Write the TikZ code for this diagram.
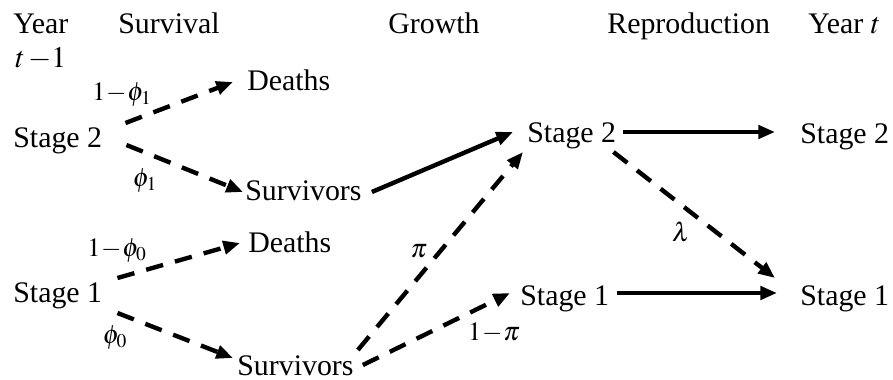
\documentclass[tikz,border=0pt]{standalone}
\usepackage{mathptmx}
\usepackage{fontspec}
\setmainfont{Liberation Serif}
\usetikzlibrary{arrows.meta,calc}

\begin{document}
\begin{tikzpicture}[x=0.02cm,y=-0.02cm,>={Triangle[length=9.5pt,width=7.5pt]},
		every node/.style={inner sep=0pt,anchor=base west,font=\fontsize{17}{20}\selectfont},
		lbl/.style={anchor=center,font=\fontsize{15}{17}\selectfont},
		pline/.style={->,line width=2.5pt},
		pdash/.style={pline,dash pattern=on 10pt off 7pt}]
		\useasboundingbox (0,0) rectangle (893,379);

		% column heads
		\node (yr1) at (13,33) {Year};
		\node (tm1) at (15,67) {$t\,{-}1$};
		\node (surv) at (118,33) {Survival};
		\node (grow) at (388,33) {Growth};
		\node (repr) at (607,33) {Reproduction};
		\node (yrt) at (808,33) {Year $t$};

		% stages and fates
		\node (aS2) at (13,147) {Stage 2};
		\node (aS1) at (13,302) {Stage 1};
		\node (dth2) at (247,90) {Deaths};
		\node (sv2) at (245,200) {Survivors};
		\node (dth1) at (248,252) {Deaths};
		\node (sv1) at (237,375) {Survivors};
		\node (bS2) at (527,142) {Stage 2};
		\node (bS1) at (520,305) {Stage 1};
		\node (cS2) at (800,143) {Stage 2};
		\node (cS1) at (800,305) {Stage 1};

		% rates
		\node[lbl] (l2d) at (122,95) {$1\!-\!\phi_1$};
		\node[lbl] (l2s) at (145,181) {$\phi_1$};
		\node[lbl] (l1d) at (117,251) {$1\!-\!\phi_0$};
		\node[lbl] (l1s) at (115,338) {$\phi_0$};
		\node[lbl] (lpi) at (419,251) {$\pi$};
		\node[lbl] (lnpi) at (494,333) {$1\!-\!\pi$};
		\node[lbl] (llam) at (681,232) {$\lambda$};

		\draw[pdash] ($(aS2.base east)+(23,-24)$) -- ($(dth2.base west)+(-14,-8)$);
		\draw[pdash] ($(aS2.base east)+(24,-2)$) -- ($(sv2.base west)+(-2,-8)$);
		\draw[pline] ($(sv2.base east)+(10,-8)$) -- ($(bS2.base west)+(-14,-10)$);
		\draw[pdash] ($(aS1.base east)+(15,-24)$) -- ($(dth1.base west)+(-8,-9)$);
		\draw[pdash] ($(aS1.base east)+(15,11)$) -- ($(sv1.base west)+(-4,-17)$);
		\draw[pdash] ($(sv1.base east)+(4,-25)$) -- ($(bS2.base west)+(-4,10)$);
		\draw[pdash] ($(sv1.base east)+(9,-10)$) -- ($(bS1.base west)+(-10,-12)$);
		\draw[pline] ($(bS2.base east)+(7,-10)$) -- ($(cS2.base west)+(-25,-11)$);
		\draw[pdash] ($(bS2.base east)+(-3,10)$) -- ($(cS1.base west)+(-25,-27)$);
		\draw[pline] ($(bS1.base east)+(8,-12)$) -- ($(cS1.base west)+(-23,-12)$);
	\end{tikzpicture}
\end{document}
